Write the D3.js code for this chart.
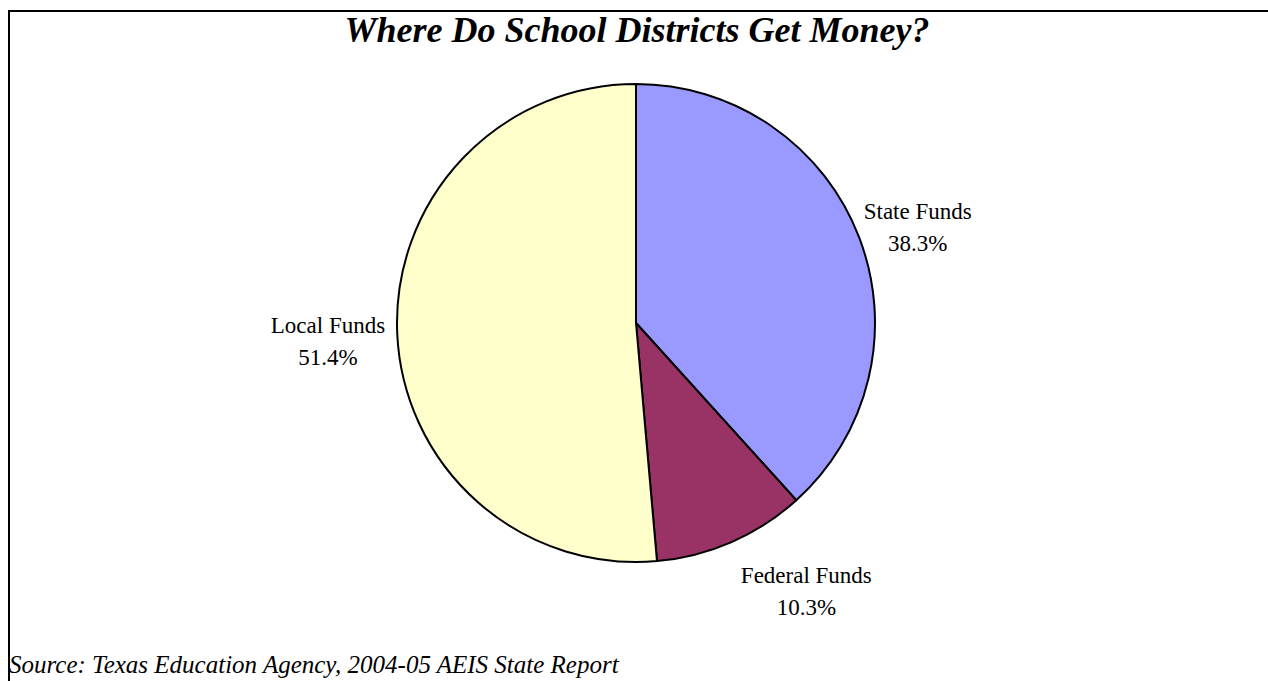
<!DOCTYPE html>
<html>
<head>
<meta charset="utf-8">
<script src="https://cdn.jsdelivr.net/npm/d3@7"></script>
<style>
  body { margin: 0; background: #fff; }
  text { font-family: "Liberation Serif", "Times New Roman", serif; }
</style>
</head>
<body>
<div id="chart"></div>
<script>
// data
var categories = ["State Funds", "Federal Funds", "Local Funds"];
var shares = [38.3, 10.3, 51.4];
var colors = ["#9999FF", "#993366", "#FFFFCC"];

var svgWidth = 1268;
var svgHeight = 681;

var svg = d3.select("#chart")
    .append("svg")
    .attr("width", svgWidth)
    .attr("height", svgHeight);

// outer frame (runs off the right and bottom)
svg.append("rect")
    .attr("x", 9)
    .attr("y", 11)
    .attr("width", 1400)
    .attr("height", 800)
    .attr("fill", "none")
    .attr("stroke", "#000")
    .attr("stroke-width", 2);

svg.append("text")
    .attr("x", 637)
    .attr("y", 42)
    .attr("text-anchor", "middle")
    .attr("font-size", 36)
    .attr("font-weight", "bold")
    .attr("font-style", "italic")
    .text("Where Do School Districts Get Money?");

var cx = 636, cy = 323, radius = 239;

var pieData = categories.map(function(c, i) {
    return { name: c, value: shares[i], color: colors[i] };
});

var pie = d3.pie()
    .sort(null)
    .value(d => d.value);

var arc = d3.arc()
    .innerRadius(0)
    .outerRadius(radius);

var labelArc = d3.arc()
    .innerRadius(radius * 1.29)
    .outerRadius(radius * 1.29);

// excel shifts its data labels a bit off the plain centroid
var labelNudge = {
    "State Funds": [-6, 11],
    "Federal Funds": [47, -18],
    "Local Funds": [0, 1]
};

var pieGroup = svg.append("g")
    .attr("transform", `translate(${cx}, ${cy})`);

pieGroup.selectAll("path")
    .data(pie(pieData))
    .enter()
    .append("path")
    .attr("d", arc)
    .attr("fill", d => d.data.color)
    .attr("stroke", "#000")
    .attr("stroke-width", 2)
    .attr("stroke-linejoin", "round");

var labels = pieGroup.selectAll(".slice-label")
    .data(pie(pieData))
    .enter()
    .append("text")
    .attr("class", "slice-label")
    .attr("text-anchor", "middle")
    .attr("font-size", 23)
    .attr("transform", function(d) {
        var c = labelArc.centroid(d);
        var n = labelNudge[d.data.name];
        return `translate(${c[0] + n[0]}, ${c[1] + n[1]})`;
    });

labels.append("tspan")
    .attr("x", 0)
    .attr("dy", "-0.2em")
    .text(d => d.data.name);

labels.append("tspan")
    .attr("x", 0)
    .attr("dy", "1.4em")
    .text(d => d.data.value.toFixed(1) + "%");

svg.append("text")
    .attr("x", 9)
    .attr("y", 673)
    .attr("font-size", 25)
    .attr("font-style", "italic")
    .text("Source: Texas Education Agency, 2004-05 AEIS State Report");
</script>
</body>
</html>
